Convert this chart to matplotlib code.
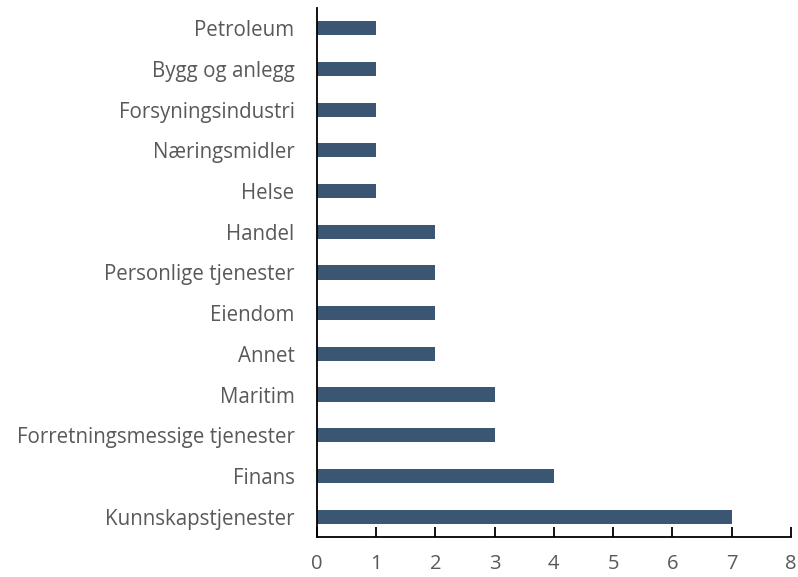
import matplotlib
matplotlib.use("Agg")
import matplotlib.pyplot as plt

categories = [
    "Kunnskapstjenester",
    "Finans",
    "Forretningsmessige tjenester",
    "Maritim",
    "Annet",
    "Eiendom",
    "Personlige tjenester",
    "Handel",
    "Helse",
    "Næringsmidler",
    "Forsyningsindustri",
    "Bygg og anlegg",
    "Petroleum",
]
values = [7, 4, 3, 3, 2, 2, 2, 2, 1, 1, 1, 1, 1]
x_ticks = [0, 1, 2, 3, 4, 5, 6, 7, 8]

plt.rcParams["font.family"] = ["Open Sans", "DejaVu Sans"]
text_color = "#595959"

fig = plt.figure(figsize=(7.98, 5.77), dpi=100)
ax = fig.add_axes([0.397, 0.0693, 0.594, 0.917])

ax.barh(range(len(categories)), values, height=0.35, color="#3A5673")

ax.set_xlim(0, 8)
ax.set_ylim(-0.5, len(categories) - 0.5)
ax.set_xticks(x_ticks)
ax.set_yticks(range(len(categories)))
ax.set_yticklabels(categories)

for s in ["top", "right"]:
    ax.spines[s].set_visible(False)
for s in ["left", "bottom"]:
    ax.spines[s].set_linewidth(1.3)
    ax.spines[s].set_color("black")

ax.tick_params(axis="y", length=0, pad=16, labelsize=14.8, labelcolor=text_color)
ax.tick_params(axis="x", direction="in", length=7, width=1.3, pad=12,
               labelsize=14.5, labelcolor=text_color)

fig.savefig("out.png", dpi=100)
